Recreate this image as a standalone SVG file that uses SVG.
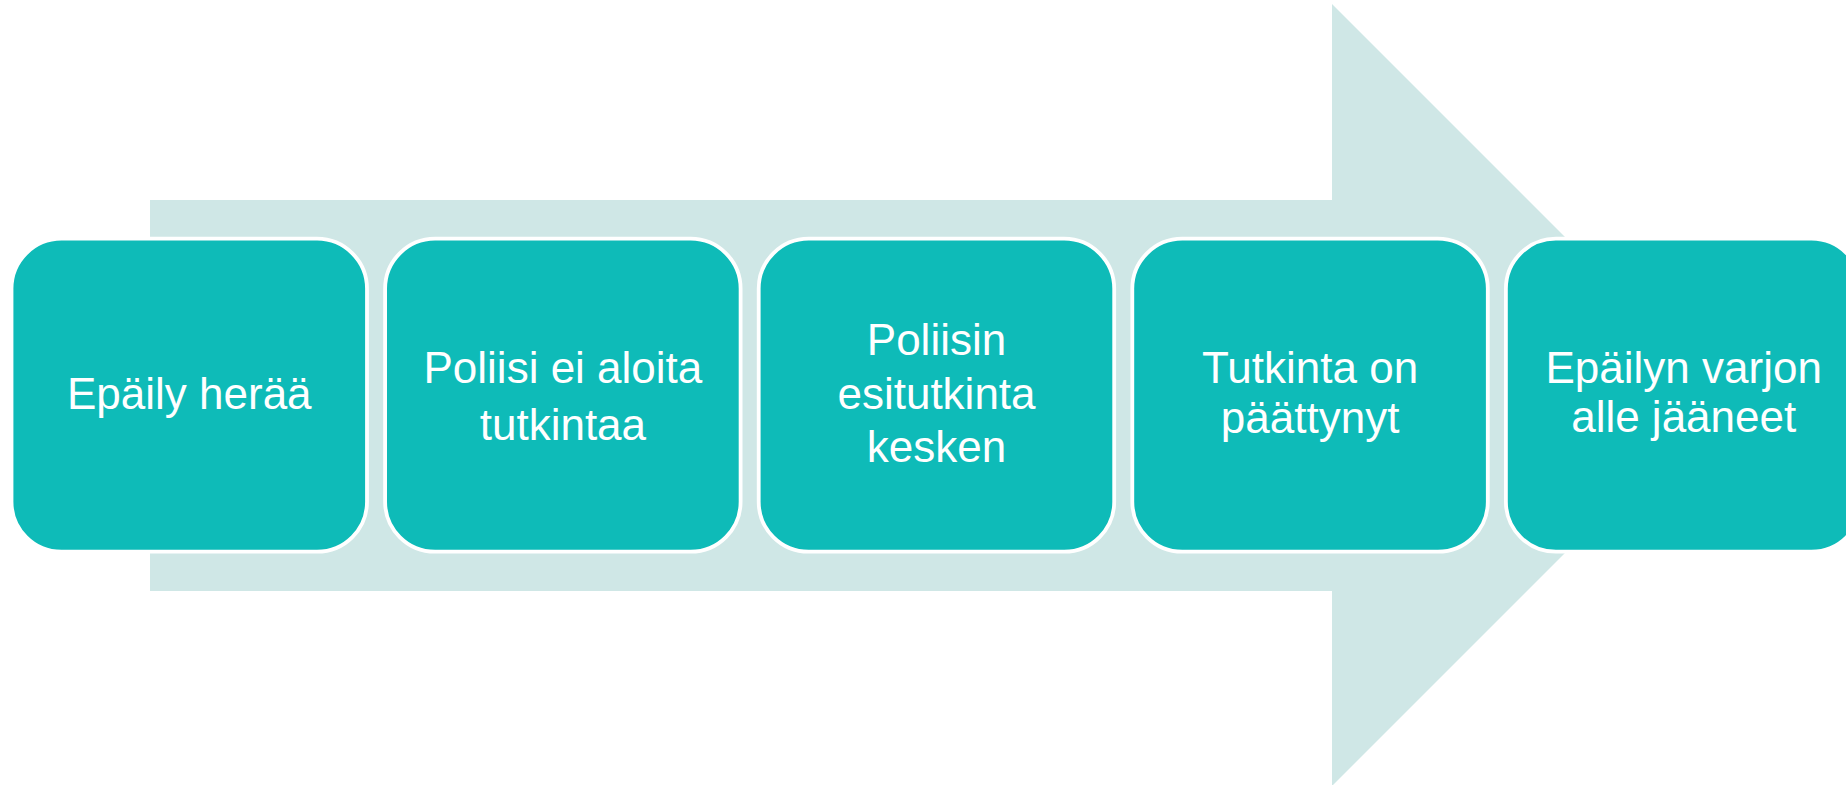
<svg xmlns="http://www.w3.org/2000/svg" width="1846" height="785" viewBox="0 0 1846 785">
<style>
.box{fill:#0EBBB8;stroke:#FFFFFF;stroke-width:3.8}
.lbl{fill:#FFFFFF;font-family:"Liberation Sans",Arial,sans-serif;font-size:44px;text-anchor:middle}
</style>
<rect x="0" y="0" width="1846" height="785" fill="#FFFFFF"/>
<g id="connectors">
<polygon points="150,200 1332,200 1332,4 1723,395 1332,786 1332,591 150,591" fill="#CFE7E6"/>
</g>
<g id="node1">
<rect class="box" x="11.5" y="238.7" width="355.5" height="313" rx="50" ry="50"/>
<text class="lbl" x="189.3" y="409.3">Epäily herää</text>
</g>
<g id="node2">
<rect class="box" x="385.1" y="238.7" width="355.5" height="313" rx="50" ry="50"/>
<text class="lbl" x="562.9" y="382.7">Poliisi ei aloita</text>
<text class="lbl" x="562.9" y="440">tutkintaa</text>
</g>
<g id="node3">
<rect class="box" x="758.7" y="238.7" width="355.5" height="313" rx="50" ry="50"/>
<text class="lbl" x="936.5" y="355">Poliisin</text>
<text class="lbl" x="936.5" y="409.3">esitutkinta</text>
<text class="lbl" x="936.5" y="461.7">kesken</text>
</g>
<g id="node4">
<rect class="box" x="1132.3" y="238.7" width="355.5" height="313" rx="50" ry="50"/>
<text class="lbl" x="1310.1" y="382.7">Tutkinta on</text>
<text class="lbl" x="1310.1" y="432.7">päättynyt</text>
</g>
<g id="node5">
<rect class="box" x="1505.9" y="238.7" width="355.5" height="313" rx="50" ry="50"/>
<text class="lbl" x="1683.7" y="382.7">Epäilyn varjon</text>
<text class="lbl" x="1683.7" y="431.7">alle jääneet</text>
</g>
</svg>
